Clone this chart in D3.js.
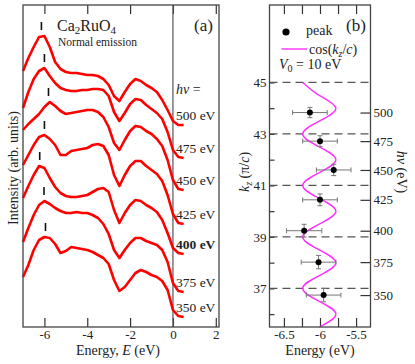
<!DOCTYPE html>
<html>
<head>
<meta charset="utf-8">
<script src="https://cdn.jsdelivr.net/npm/d3@7"></script>
<style>
  body { margin: 0; background: #fff; }
  svg { display: block; }
  svg text { font-family: "Liberation Serif", "Times New Roman", Times, serif; }
</style>
</head>
<body>
<div id="chart"></div>
<script>
// Data
//================================
// panel (a): binding energy grid and spectra (height above each spectrum's baseline)
var energies = [-7, -6.75, -6.5, -6.25, -6, -5.75, -5.5, -5.25, -5, -4.75, -4.5, -4.25, -4, -3.75, -3.5,
  -3.25, -3, -2.75, -2.5, -2.25, -2, -1.75, -1.5, -1.25, -1, -0.75, -0.5, -0.25, 0, 0.25, 0.5];

var spec500 = [54, 67, 78, 88, 89, 78, 63, 56, 53, 52, 52, 51, 50, 50, 49, 46, 40, 29, 24, 33, 41, 46, 44, 40, 37, 33, 25, 15, 4, 0, 0];
var spec475 = [50, 66, 79, 87, 90, 82, 75, 70, 68, 67, 67, 68, 68, 69, 69, 68, 62, 46, 37, 45, 54, 59, 58, 53, 49, 45, 39, 26, 8, 1, 0];
var spec450 = [60, 66, 71, 76, 83, 88, 84, 79, 76, 77, 78, 79, 80, 80, 78, 73, 63, 47, 40, 50, 59, 64, 63, 59, 56, 51, 44, 30, 10, 1, 0];
var spec425 = [59, 69, 79, 87, 89, 85, 79, 69, 69, 73, 74, 75, 76, 79, 80, 78, 69, 49, 38, 49, 58, 63, 63, 58, 54, 50, 43, 29, 10, 1, 0];
var spec400 = [56, 68, 79, 88, 86, 76, 67, 61, 58, 57, 57, 58, 59, 62, 65, 66, 62, 44, 31, 41, 49, 54, 53, 49, 46, 42, 34, 21, 6, 1, 0];
var spec375 = [50, 64, 77, 87, 91, 88, 84, 81, 79, 79, 80, 79, 79, 77, 74, 68, 58, 42, 34, 42, 49, 54, 54, 51, 49, 47, 42, 30, 9, 1, 0];
var spec350 = [40, 52, 67, 77, 80, 79, 73, 64, 66, 70, 69, 68, 67, 65, 62, 59, 53, 37, 26, 30, 37, 44, 47, 45, 42, 40, 36, 27, 7, 1, 0];

var photonEnergies = [500, 475, 450, 425, 400, 375, 350];
var spectrumOffsets = [202, 169, 137, 103, 73, 35, 10];

// panel (b): peak positions vs kz
var peakEnergy = [-6.14, -6.0, -5.81, -6.0, -6.22, -6.02, -5.95];
var peakEnergyErr = [0.24, 0.24, 0.24, 0.24, 0.245, 0.24, 0.24];
var peakKz = [43.83, 42.72, 41.60, 40.44, 39.24, 38.02, 36.74];
var peakKzErr = [0.2, 0.21, 0.22, 0.23, 0.25, 0.26, 0.26];

// cos(kz/c) curve, read at half-integer kz
var cosKz = [35.5, 36, 36.5, 37, 37.5, 38, 38.5, 39, 39.5, 40, 40.5, 41, 41.5, 42, 42.5, 43, 43.5, 44, 44.5, 45];
var cosE = [-6.01, -5.78, -6.01, -6.24, -6.01, -5.78, -6.01, -6.24, -6.01, -5.78, -6.01, -6.24, -6.01, -5.78,
  -6.01, -6.24, -6.01, -5.78, -6.01, -6.24];

var zoneBoundaryKz = [45, 43, 41, 39, 37];
var kzTicks = [36, 37, 38, 39, 40, 41, 42, 43, 44, 45];
var energyTicksA = [-6, -4, -2, 0, 2];
var energyTicksB = [-6.5, -6.25, -6, -5.75, -5.5];

// Step 1: Set up the chart
//================================
var svgWidth = 415;
var svgHeight = 364;

var panelA = {left: 23, right: 219, top: 5, bottom: 327};
var panelB = {left: 269.5, right: 370.5, top: 5, bottom: 327};

var svg = d3.select("#chart")
  .append("svg")
  .attr("width", svgWidth)
  .attr("height", svgHeight);

svg.append("rect")
  .attr("width", svgWidth)
  .attr("height", svgHeight)
  .attr("fill", "#fff");

function styleAxis(g) {
  g.select(".domain").remove();
  g.selectAll("line").attr("stroke", "#333").attr("stroke-width", 1.2);
  g.selectAll("text")
    .attr("font-size", 13)
    .attr("fill", "#222");
}

// Step 2: panel (a) – spectra
//================================
var xA = d3.scaleLinear().domain([-7, 2.15]).range([panelA.left, panelA.right]);
var yA = d3.scaleLinear().domain([0, 322]).range([panelA.bottom, panelA.top]);

svg.append("g")
  .attr("transform", `translate(0, ${panelA.bottom})`)
  .call(d3.axisBottom(xA).tickValues(energyTicksA).tickSizeInner(-9).tickSizeOuter(0)
    .tickPadding(3).tickFormat(d => String(d)))
  .call(styleAxis);

svg.append("g")
  .attr("transform", `translate(0, ${panelA.top})`)
  .call(d3.axisTop(xA).tickValues(energyTicksA).tickSizeInner(-9).tickSizeOuter(0).tickFormat(""))
  .call(styleAxis);

// Fermi level line
svg.append("line")
  .attr("x1", xA(0)).attr("x2", xA(0))
  .attr("y1", panelA.top).attr("y2", panelA.bottom)
  .attr("stroke", "#555")
  .attr("stroke-width", 1.2);

var spectra = [spec500, spec475, spec450, spec425, spec400, spec375, spec350];

var spectrumLine = d3.line()
  .x(d => xA(d.e))
  .y(d => yA(d.v));

spectra.forEach(function(spec, k) {
  var pts = spec.map((v, i) => ({e: energies[i], v: v + spectrumOffsets[k]}));
  svg.append("path")
    .datum(pts)
    .attr("fill", "none")
    .attr("stroke", "#ff0000")
    .attr("stroke-width", 2.6)
    .attr("stroke-linejoin", "round")
    .attr("d", spectrumLine);

  // peak marker
  var top = yA(d3.max(spec) + spectrumOffsets[k]);
  svg.append("line")
    .attr("x1", xA(peakEnergy[k])).attr("x2", xA(peakEnergy[k]))
    .attr("y1", top - 14).attr("y2", top - 6)
    .attr("stroke", "#111")
    .attr("stroke-width", 1.6);

  // photon energy label
  svg.append("text")
    .attr("x", 176)
    .attr("y", yA(spectrumOffsets[k]) - 5)
    .attr("font-size", 13.5)
    .attr("font-weight", photonEnergies[k] === 400 ? "bold" : "normal")
    .attr("fill", "#222")
    .text(photonEnergies[k] + " eV");
});

var hvText = svg.append("text").attr("x", 176).attr("y", 94).attr("font-size", 14).attr("fill", "#222");
hvText.append("tspan").attr("font-style", "italic").text("h\u03bd");
hvText.append("tspan").text(" =");

svg.append("rect")
  .attr("x", panelA.left).attr("y", panelA.top)
  .attr("width", panelA.right - panelA.left)
  .attr("height", panelA.bottom - panelA.top)
  .attr("fill", "none")
  .attr("stroke", "#444")
  .attr("stroke-width", 1.3);

var caText = svg.append("text").attr("x", 57).attr("y", 31).attr("font-size", 16).attr("fill", "#222");
caText.append("tspan").text("Ca");
caText.append("tspan").attr("font-size", 11).attr("dy", 3).text("2");
caText.append("tspan").attr("dy", -3).text("RuO");
caText.append("tspan").attr("font-size", 11).attr("dy", 3).text("4");

svg.append("text").attr("x", 58).attr("y", 46).attr("font-size", 11.5).attr("fill", "#222")
  .text("Normal emission");

svg.append("text").attr("x", 194).attr("y", 31).attr("font-size", 17).attr("fill", "#222").text("(a)");

var exA = svg.append("text")
  .attr("x", (panelA.left + panelA.right) / 2 - 3)
  .attr("y", 354.5)
  .attr("text-anchor", "middle")
  .attr("font-size", 14)
  .attr("fill", "#222");
exA.append("tspan").text("Energy, ");
exA.append("tspan").attr("font-style", "italic").text("E");
exA.append("tspan").text(" (eV)");

svg.append("text")
  .attr("transform", "translate(18, 168) rotate(-90)")
  .attr("text-anchor", "middle")
  .attr("font-size", 14)
  .attr("fill", "#222")
  .text("Intensity (arb. units)");

// Step 3: panel (b) – peak energy vs kz
//================================
var xB = d3.scaleLinear().domain([-6.7, -5.3]).range([panelB.left, panelB.right]);
var yB = d3.scaleLinear().domain([35.5, 48]).range([panelB.bottom, panelB.top + 0.2]);

svg.append("g")
  .attr("transform", `translate(0, ${panelB.bottom})`)
  .call(d3.axisBottom(xB).tickValues(energyTicksB).tickSizeInner(-9).tickSizeOuter(0)
    .tickPadding(3).tickFormat(d => (d * 2) % 1 === 0 ? String(d) : ""))
  .call(styleAxis);

svg.append("g")
  .attr("transform", `translate(0, ${panelB.top})`)
  .call(d3.axisTop(xB).tickValues(energyTicksB).tickSizeInner(-9).tickSizeOuter(0).tickFormat(""))
  .call(styleAxis);

svg.append("g")
  .attr("transform", `translate(${panelB.left}, 0)`)
  .call(d3.axisLeft(yB).tickValues(kzTicks).tickSizeInner(-5).tickSizeOuter(0)
    .tickPadding(3).tickFormat(d => d % 2 ? String(d) : ""))
  .call(styleAxis);

svg.append("g")
  .attr("transform", `translate(${panelB.right}, 0)`)
  .call(d3.axisRight(yB).tickValues(peakKz).tickSizeInner(-10).tickSizeOuter(0)
    .tickPadding(3).tickFormat((d, i) => String(photonEnergies[i])))
  .call(styleAxis);

svg.selectAll(".zone-line")
  .data(zoneBoundaryKz)
  .enter()
  .append("line")
  .attr("class", "zone-line")
  .attr("x1", panelB.left)
  .attr("x2", panelB.right)
  .attr("y1", d => yB(d))
  .attr("y2", d => yB(d))
  .attr("stroke", "#555")
  .attr("stroke-width", 1.3)
  .attr("stroke-dasharray", "8,5");

var cosLine = d3.line()
  .x((d, i) => xB(cosE[i]))
  .y(d => yB(d))
  .curve(d3.curveNatural);

svg.append("path")
  .datum(cosKz)
  .attr("fill", "none")
  .attr("stroke", "#ff30ff")
  .attr("stroke-width", 1.4)
  .attr("d", cosLine);

// error bars
var errGroup = svg.append("g").attr("stroke", "#777").attr("stroke-width", 1);
peakKz.forEach(function(kz, i) {
  var cx = xB(peakEnergy[i]);
  var cy = yB(kz);
  var x0 = xB(peakEnergy[i] - peakEnergyErr[i]);
  var x1 = xB(peakEnergy[i] + peakEnergyErr[i]);
  var y0 = yB(kz - peakKzErr[i]);
  var y1 = yB(kz + peakKzErr[i]);
  errGroup.append("line").attr("x1", x0).attr("x2", x1).attr("y1", cy).attr("y2", cy);
  errGroup.append("line").attr("x1", x0).attr("x2", x0).attr("y1", cy - 2.5).attr("y2", cy + 2.5);
  errGroup.append("line").attr("x1", x1).attr("x2", x1).attr("y1", cy - 2.5).attr("y2", cy + 2.5);
  errGroup.append("line").attr("x1", cx).attr("x2", cx).attr("y1", y0).attr("y2", y1);
  errGroup.append("line").attr("x1", cx - 2.5).attr("x2", cx + 2.5).attr("y1", y0).attr("y2", y0);
  errGroup.append("line").attr("x1", cx - 2.5).attr("x2", cx + 2.5).attr("y1", y1).attr("y2", y1);
});

svg.selectAll(".peak-dot")
  .data(peakKz)
  .enter()
  .append("circle")
  .attr("class", "peak-dot")
  .attr("cx", (d, i) => xB(peakEnergy[i]))
  .attr("cy", d => yB(d))
  .attr("r", 3)
  .attr("fill", "#000");

svg.append("rect")
  .attr("x", panelB.left).attr("y", panelB.top)
  .attr("width", panelB.right - panelB.left)
  .attr("height", panelB.bottom - panelB.top)
  .attr("fill", "none")
  .attr("stroke", "#444")
  .attr("stroke-width", 1.3);

// legend
svg.append("circle").attr("cx", 286).attr("cy", 32).attr("r", 3.6).attr("fill", "#000");
svg.append("text").attr("x", 306).attr("y", 35).attr("font-size", 14).attr("fill", "#222").text("peak");
svg.append("line").attr("x1", 281.5).attr("x2", 307).attr("y1", 49).attr("y2", 49)
  .attr("stroke", "#ff30ff").attr("stroke-width", 1.4);
var cosText = svg.append("text").attr("x", 309).attr("y", 53.5).attr("font-size", 14).attr("fill", "#222");
cosText.append("tspan").text("cos(");
cosText.append("tspan").attr("font-style", "italic").text("k");
cosText.append("tspan").attr("font-style", "italic").attr("font-size", 10).attr("dy", 3).text("z");
cosText.append("tspan").attr("dy", -3).text("/");
cosText.append("tspan").attr("font-style", "italic").text("c");
cosText.append("tspan").text(")");

var v0Text = svg.append("text").attr("x", 279).attr("y", 69).attr("font-size", 14).attr("fill", "#222");
v0Text.append("tspan").attr("font-style", "italic").text("V");
v0Text.append("tspan").attr("font-size", 10).attr("dy", 3).text("0");
v0Text.append("tspan").attr("dy", -3).text(" = 10 eV");

svg.append("text").attr("x", 346).attr("y", 31).attr("font-size", 17).attr("fill", "#222").text("(b)");

svg.append("text")
  .attr("x", (panelB.left + panelB.right) / 2)
  .attr("y", 354.5)
  .attr("text-anchor", "middle")
  .attr("font-size", 14)
  .attr("fill", "#222")
  .text("Energy (eV)");

var kzLabel = svg.append("text")
  .attr("transform", "translate(249, 172) rotate(-90)")
  .attr("text-anchor", "middle")
  .attr("font-size", 14)
  .attr("fill", "#222");
kzLabel.append("tspan").attr("font-style", "italic").text("k");
kzLabel.append("tspan").attr("font-style", "italic").attr("font-size", 10).attr("dy", 3).text("z");
kzLabel.append("tspan").attr("dy", -3).text(" (\u03c0/");
kzLabel.append("tspan").attr("font-style", "italic").text("c");
kzLabel.append("tspan").text(")");

var hvLabel = svg.append("text")
  .attr("transform", "translate(397, 172) rotate(90)")
  .attr("text-anchor", "middle")
  .attr("font-size", 14)
  .attr("fill", "#222");
hvLabel.append("tspan").attr("font-style", "italic").text("h\u03bd");
hvLabel.append("tspan").text(" (eV)");
</script>
</body>
</html>
